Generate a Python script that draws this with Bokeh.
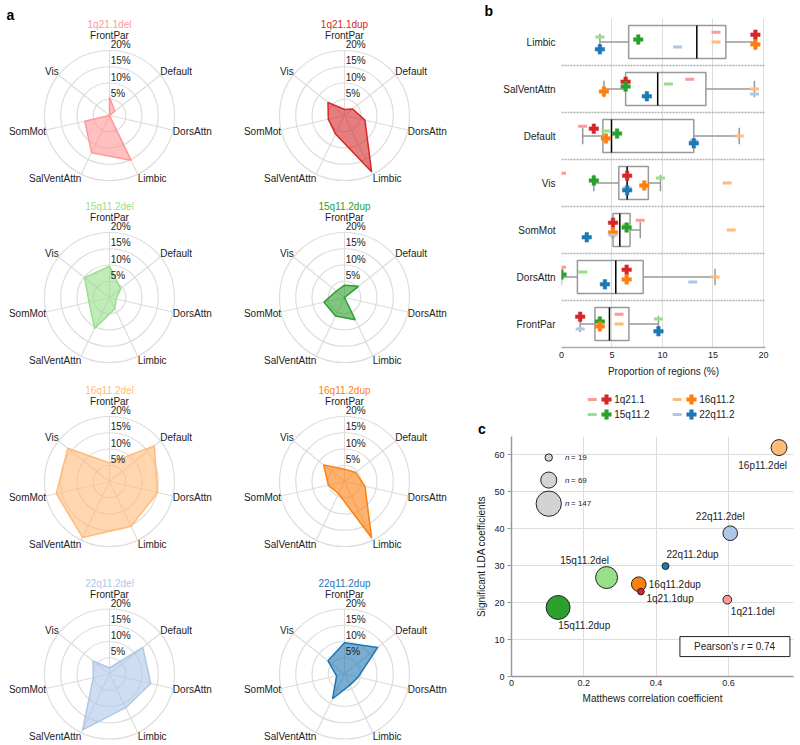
import numpy as np
from bokeh.plotting import figure
from bokeh.layouts import row, column
from bokeh.models import Range1d, FixedTicker
from bokeh.core.properties import value
from bokeh.embed import file_html
from bokeh.resources import INLINE

FONT = "Liberation Sans"

# ---------------- data ----------------
networks = ["FrontPar", "Default", "DorsAttn", "Limbic", "SalVentAttn", "SomMot", "Vis"]
cnvs = ["1q21.1del", "1q21.1dup", "15q11.2del", "15q11.2dup",
        "16q11.2del", "16q11.2dup", "22q11.2del", "22q11.2dup"]
# proportion of regions (%) per network (order of `networks`)
p_1q21_del = [5.7, 2.1, 0.0, 15.3, 12.7, 7.8, 0.0]
p_1q21_dup = [1.85, 3.2, 6.45, 19.2, 6.35, 5.1, 6.5]
p_15q_del = [9.6, 4.4, 2.1, 3.8, 10.6, 6.45, 9.8]
p_15q_dup = [3.8, 5.5, 0.0, 7.6, 6.35, 6.45, 3.2]
p_16q_del = [5.7, 17.6, 15.2, 15.3, 19.1, 16.8, 16.4]
p_16q_dup = [3.8, 4.4, 6.45, 19.2, 4.2, 5.1, 8.2]
p_22q_del = [1.85, 13.1, 13.0, 11.5, 19.1, 5.1, 6.5]
p_22q_dup = [9.6, 13.1, 4.3, 3.8, 8.45, 2.5, 6.5]
proportions = [p_1q21_del, p_1q21_dup, p_15q_del, p_15q_dup,
               p_16q_del, p_16q_dup, p_22q_del, p_22q_dup]
cnv_colors = ["#ff9896", "#d62728", "#98df8a", "#2ca02c",
              "#ffbb78", "#ff7f0e", "#aec7e8", "#1f77b4"]
radar_ticks = [5, 10, 15, 20]

box_rows = ["Limbic", "SalVentAttn", "Default", "Vis", "SomMot", "DorsAttn", "FrontPar"]
b_xticks = [0, 5, 10, 15, 20]
legend_loci = ["1q21.1", "15q11.2", "16q11.2", "22q11.2"]

c_names = ["1q21.1del", "1q21.1dup", "15q11.2del", "15q11.2dup",
           "16p11.2del", "16q11.2dup", "22q11.2del", "22q11.2dup"]
mcc = [0.597, 0.358, 0.263, 0.129, 0.740, 0.352, 0.605, 0.426]
lda_coef = [20.8, 23.0, 26.8, 18.7, 62.0, 25.0, 38.8, 29.9]
n_carriers = [25, 16, 116, 134, 68, 59, 59, 17]
size_legend_n = [19, 69, 147]
pearson_r = 0.74

# ---------------- layout / style constants ----------------
S = 3.25                 # pixels per percent in radar
RW = 235
CX = 109
row_heights = [193, 182, 193, 177]
row_cy = [115, 104, 106, 105.5]
GRID = "#dddddd"
TXT = "#222222"
PBH = 381
LH = 55


def size_of(n):
    return 1.267 * np.power(np.asarray(n, dtype=float), 0.6)


def panel_letter(p, letter, offset):
    p.title.text = letter
    p.title.text_font = FONT
    p.title.text_font_size = "14px"
    p.title.text_font_style = "bold"
    p.title.text_color = "black"
    p.title.align = "left"
    p.title.offset = offset
    p.title.standoff = 0
    p.title.text_line_height = 1.0


def radar_fig(vals, name, color, H, cy, letter=None):
    p = figure(width=RW, height=H,
               x_range=Range1d(-CX / S, (RW - CX) / S),
               y_range=Range1d(-(H - cy) / S, cy / S),
               output_backend="svg", toolbar_location=None,
               x_axis_location=None, y_axis_location=None,
               min_border_left=0, min_border_right=0, min_border_top=0, min_border_bottom=0,
               outline_line_color=None)
    p.grid.visible = False
    n = len(networks)
    ang = np.arange(n) * 2 * np.pi / n
    rmax = radar_ticks[-1]
    p.circle(x=[0] * len(radar_ticks), y=[0] * len(radar_ticks), radius=radar_ticks,
             fill_color=None, line_color=GRID, line_width=1.2)
    p.segment(x0=[0] * n, y0=[0] * n, x1=list(rmax * np.sin(ang)), y1=list(rmax * np.cos(ang)),
              line_color=GRID, line_width=1.2)
    v = np.asarray(vals)
    p.patch(list(v * np.sin(ang)), list(v * np.cos(ang)), fill_color=color, fill_alpha=0.6,
            line_color=color, line_width=1.5)
    p.text(x=[0.35] * len(radar_ticks), y=[t + 0.1 for t in radar_ticks],
           text=[f"{t}%" for t in radar_ticks], text_align="left", text_baseline="bottom",
           text_font=value(FONT), text_font_size="10px", text_color=TXT)
    groups = {"left": ([], [], []), "right": ([], [], []), "center": ([], [], [])}
    for a, lab in zip(ang, networks):
        s, c = np.sin(a), np.cos(a)
        if s > 0.05:
            g = "left"
        elif s < -0.05:
            g = "right"
        else:
            g = "center"
        lx = 20.0 * s
        ly = 21.5 * c if g != "center" else 24.6
        groups[g][0].append(lx)
        groups[g][1].append(ly)
        groups[g][2].append(lab)
    for g, (xs, ys, ts) in groups.items():
        if ts:
            p.text(x=xs, y=ys, text=ts, text_align=g, text_baseline="middle",
                   text_font=value(FONT), text_font_size="10px", text_color=TXT)
    p.text(x=[0], y=[28.0], text=[name], text_align="center", text_baseline="middle",
           text_font=value(FONT), text_font_size="10px", text_color=color)
    if letter:
        p.text(x=[-CX / S + 6 / S], y=[cy / S - 6 / S], text=[letter], text_align="left",
               text_baseline="top", text_font=value(FONT), text_font_size="14px",
               text_font_style="bold", text_color="black")
    return p


radar_rows = []
for r in range(4):
    figs = []
    for k in range(2):
        i = 2 * r + k
        figs.append(radar_fig(proportions[i], cnvs[i], cnv_colors[i], row_heights[r], row_cy[r],
                              "a" if i == 0 else None))
    radar_rows.append(row(*figs))
left = column(*radar_rows)

# ---------------- panel b ----------------
pb = figure(width=330, height=PBH, x_range=Range1d(0, 20.2), y_range=Range1d(-0.5, 6.5),
            output_backend="svg", toolbar_location=None,
            min_border_left=91, min_border_right=35, min_border_top=14, min_border_bottom=34,
            outline_line_color=None)
pb.frame_align = False
panel_letter(pb, "b", -77)
pb.ygrid.visible = False
pb.xgrid.ticker = FixedTicker(ticks=b_xticks)
pb.xgrid.grid_line_color = GRID
pb.xaxis.ticker = FixedTicker(ticks=b_xticks)
pb.yaxis.ticker = FixedTicker(ticks=list(range(len(box_rows))))
pb.yaxis.major_label_overrides = {len(box_rows) - 1 - i: nm for i, nm in enumerate(box_rows)}
for ax in (pb.xaxis, pb.yaxis):
    ax.major_tick_out = 0
    ax.major_tick_in = 0
    ax.minor_tick_out = 0
    ax.minor_tick_in = 0
    ax.major_label_text_font = FONT
    ax.major_label_text_color = TXT
pb.yaxis.axis_line_color = None
pb.yaxis.major_label_text_font_size = "10px"
pb.yaxis.major_label_standoff = 6
pb.xaxis.major_label_text_font_size = "9px"
pb.xaxis.major_label_standoff = 4
pb.xaxis.axis_line_color = "#aaaaaa"
pb.xaxis.axis_line_width = 1.5
pb.xaxis.axis_label = "Proportion of regions (%)"
pb.xaxis.axis_label_text_font = FONT
pb.xaxis.axis_label_text_font_size = "10px"
pb.xaxis.axis_label_text_font_style = "normal"
pb.xaxis.axis_label_text_color = TXT
pb.xaxis.axis_label_standoff = 5

nrow = len(box_rows)
seps = [k + 0.5 for k in range(nrow - 1)]
pb.multi_line(xs=[[0, 20.2]] * len(seps), ys=[[s_, s_] for s_ in seps],
              line_color="#b0b0b0", line_width=1.5, line_dash="2 1")

BOXH = 0.7
for i, nm in enumerate(box_rows):
    yc = nrow - 1 - i
    j = networks.index(nm)
    vals = np.array([pr[j] for pr in proportions])
    q1, med, q3 = np.percentile(vals, [25, 50, 75])
    iqr = q3 - q1
    lo = vals[vals >= q1 - 1.5 * iqr].min()
    hi = vals[vals <= q3 + 1.5 * iqr].max()
    pb.segment(x0=[lo, q3], y0=[yc, yc], x1=[q1, hi], y1=[yc, yc], line_color="#999999", line_width=1.5)
    pb.segment(x0=[lo, hi], y0=[yc - BOXH / 4] * 2, x1=[lo, hi], y1=[yc + BOXH / 4] * 2,
               line_color="#999999", line_width=1.5)
    pb.quad(left=[q1], right=[q3], bottom=[yc - BOXH / 2], top=[yc + BOXH / 2],
            fill_color="white", fill_alpha=0.0, line_color="#999999", line_width=1.5)
    pb.segment(x0=[med], y0=[yc - BOXH / 2], x1=[med], y1=[yc + BOXH / 2],
               line_color="black", line_width=1.5)

JIT = 0.052
for k, pr in enumerate(proportions):
    xs = [pr[networks.index(nm)] for nm in box_rows]
    ys = [nrow - 1 - i + (4 - k) * JIT for i in range(nrow)]
    if k % 2 == 0:
        pb.scatter(x=xs, y=ys, marker="dash", size=9, line_width=3, line_color=cnv_colors[k])
    else:
        pb.scatter(x=xs, y=ys, marker="plus", size=9.5, fill_color=cnv_colors[k],
                   line_color=cnv_colors[k], line_width=0.5)

# ---------------- legend (also carries the panel letter "c") ----------------
pl = figure(width=330, height=LH, x_range=Range1d(0, 330), y_range=Range1d(LH, 0),
            output_backend="svg", toolbar_location=None,
            x_axis_location=None, y_axis_location=None,
            min_border_left=0, min_border_right=0, min_border_top=0, min_border_bottom=0,
            outline_line_color=None)
pl.frame_align = False
pl.grid.visible = False
col_x = [121.7, 206.7]
row_y = [399 - PBH, 414 - PBH]
for j, loc in enumerate(legend_loci):
    cx_, cy_ = col_x[j // 2], row_y[j % 2]
    pl.scatter(x=[cx_], y=[cy_], marker="dash", size=9, line_width=3, line_color=cnv_colors[2 * j])
    pl.scatter(x=[cx_ + 14.3], y=[cy_], marker="plus", size=9.5, fill_color=cnv_colors[2 * j + 1],
               line_color=cnv_colors[2 * j + 1], line_width=0.5)
    pl.text(x=[cx_ + 22], y=[cy_], text=[loc], text_align="left", text_baseline="middle",
            text_font=value(FONT), text_font_size="10px", text_color=TXT)
pl.text(x=[7.5], y=[LH - 7.5], text=["c"], text_align="left", text_baseline="middle",
        text_font=value(FONT), text_font_size="14px", text_font_style="bold", text_color="black")

# ---------------- panel c ----------------
PCH = 745 - PBH - LH
pc = figure(width=330, height=PCH, x_range=Range1d(0, 0.78), y_range=Range1d(0, 65),
            output_backend="svg", toolbar_location=None,
            min_border_left=41, min_border_right=7, min_border_top=0, min_border_bottom=69,
            outline_line_color=None)
pc.frame_align = False
pc.xaxis.ticker = FixedTicker(ticks=[0, 0.2, 0.4, 0.6])
pc.yaxis.ticker = FixedTicker(ticks=[0, 10, 20, 30, 40, 50, 60])
pc.xgrid.ticker = FixedTicker(ticks=[0.2, 0.4, 0.6])
pc.ygrid.ticker = FixedTicker(ticks=[10, 20, 30, 40, 50, 60])
pc.grid.grid_line_color = GRID
pc.xaxis.major_label_overrides = {0: "0"}
for ax in (pc.xaxis, pc.yaxis):
    ax.major_tick_out = 4
    ax.major_tick_in = 0
    ax.minor_tick_out = 0
    ax.minor_tick_in = 0
    ax.major_tick_line_color = "#999999"
    ax.axis_line_color = "#999999"
    ax.axis_line_width = 1.5
    ax.major_label_text_font = FONT
    ax.major_label_text_font_size = "9px"
    ax.major_label_text_color = TXT
    ax.major_label_standoff = 3
    ax.axis_label_text_font = FONT
    ax.axis_label_text_font_size = "10px"
    ax.axis_label_text_font_style = "normal"
    ax.axis_label_text_color = TXT
    ax.axis_label_standoff = 4
pc.xaxis.axis_label = "Matthews correlation coefficient"
pc.yaxis.axis_label = "Significant LDA coefficients"
pc.xaxis.major_tick_out = 0

# size legend
sl_x = 0.103
sl_y = [59.3, 53.2, 46.8]
pc.scatter(x=[sl_x] * 3, y=sl_y, size=list(size_of(size_legend_n)), fill_color="#d3d3d3",
           line_color="#222222", line_width=1)
pc.text(x=[0.148] * 3, y=sl_y, text=["n"] * 3, text_align="left", text_baseline="middle",
        text_font=value(FONT), text_font_size="8px", text_font_style="italic", text_color=TXT)
pc.text(x=[0.148] * 3, y=sl_y, x_offset=6, text=[f"= {n}" for n in size_legend_n], text_align="left",
        text_baseline="middle", text_font=value(FONT), text_font_size="8px", text_color=TXT)

order = np.argsort(-np.asarray(n_carriers))
sizes = size_of(n_carriers)
pc.scatter(x=[mcc[i] for i in order], y=[lda_coef[i] for i in order], size=[sizes[i] for i in order],
           fill_color=[cnv_colors[i] for i in order], line_color="#222222", line_width=1)

# label placement (pixel offsets and alignment)
lab_dx = [3.5, 5.5, -22, 0, -16.4, 10, -10, 27]
lab_dy = [11.7, 7, -17.5, 18.5, 17.7, 0, -16.7, -11.4]
lab_al = ["left", "left", "center", "left", "center", "left", "center", "center"]
for al in ("left", "center"):
    idx = [i for i in range(len(c_names)) if lab_al[i] == al]
    pc.text(x=[mcc[i] for i in idx], y=[lda_coef[i] for i in idx], text=[c_names[i] for i in idx],
            x_offset=[lab_dx[i] for i in idx], y_offset=[lab_dy[i] for i in idx],
            text_align=al, text_baseline="middle", text_font=value(FONT), text_font_size="10px",
            text_color=TXT)

# Pearson box
pc.rect(x=[0.618], y=[8.1], width=[110], height=[20], width_units="screen", height_units="screen",
        fill_color="white", line_color="#222222", line_width=1)
pc.text(x=[0.505], y=[8.1], text=["Pearson\u2019s"], text_align="left", text_baseline="middle",
        text_font=value(FONT), text_font_size="10px", text_color=TXT)
pc.text(x=[0.505], y=[8.1], x_offset=[47.2], text=["r"], text_align="left", text_baseline="middle",
        text_font=value(FONT), text_font_size="10px", text_font_style="italic", text_color=TXT)
pc.text(x=[0.505], y=[8.1], x_offset=[53.0], text=[f"= {pearson_r:.2f}"], text_align="left",
        text_baseline="middle", text_font=value(FONT), text_font_size="10px", text_color=TXT)

right = column(pb, pl, pc)
layout = row(left, right)

with open("out.html", "w") as f:
    f.write(file_html(layout, INLINE))
